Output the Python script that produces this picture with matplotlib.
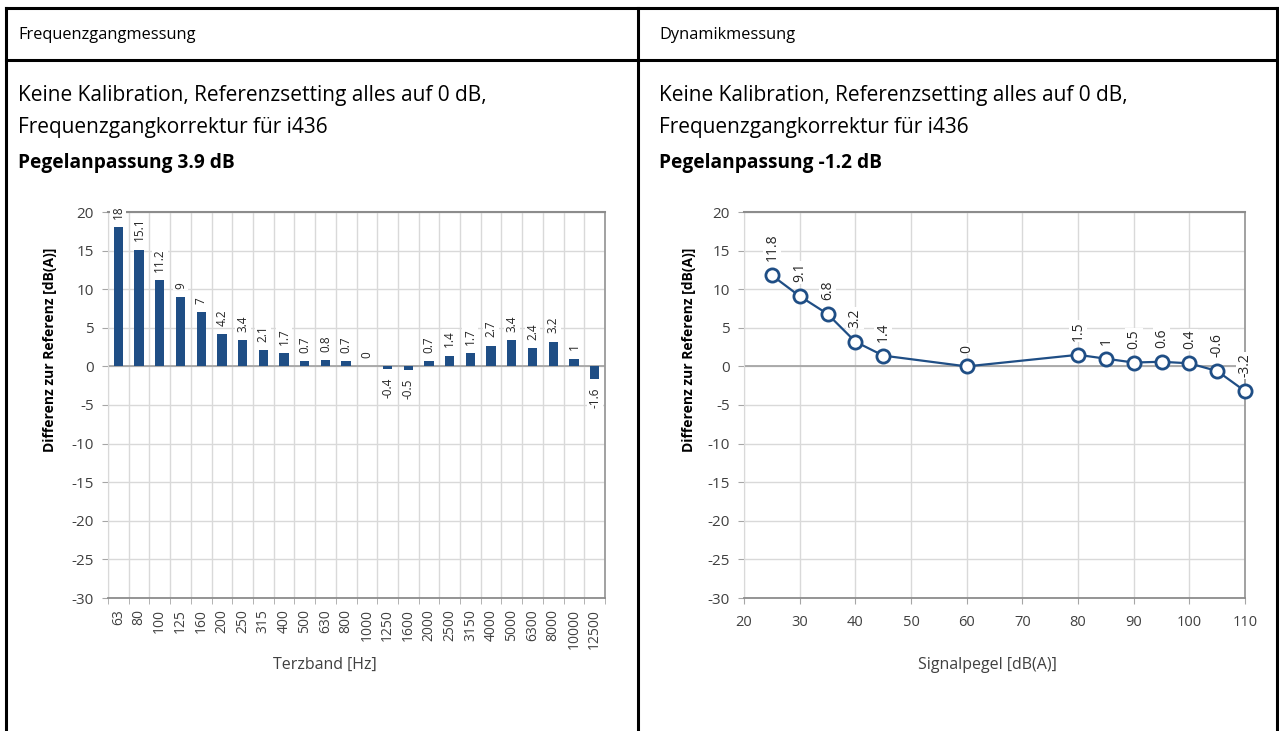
import matplotlib
matplotlib.use("Agg")
import matplotlib.pyplot as plt
from matplotlib.lines import Line2D

plt.rcParams['font.family'] = ['Open Sans', 'DejaVu Sans']
plt.rcParams['axes.unicode_minus'] = False

# Frequency response: third-octave bands and deviation from reference
bands = ["63", "80", "100", "125", "160", "200", "250", "315", "400", "500",
         "630", "800", "1000", "1250", "1600", "2000", "2500", "3150", "4000",
         "5000", "6300", "8000", "10000", "12500"]
band_diff = [18, 15.1, 11.2, 9, 7, 4.2, 3.4, 2.1, 1.7, 0.7, 0.8, 0.7, 0,
             -0.4, -0.5, 0.7, 1.4, 1.7, 2.7, 3.4, 2.4, 3.2, 1, -1.6]

# Dynamic range: signal level and deviation from reference
levels = [25, 30, 35, 40, 45, 60, 80, 85, 90, 95, 100, 105, 110]
level_diff = [11.8, 9.1, 6.8, 3.2, 1.4, 0, 1.5, 1, 0.5, 0.6, 0.4, -0.6, -3.2]

y_ticks = [20, 15, 10, 5, 0, -5, -10, -15, -20, -25, -30]
x_level_ticks = [20, 30, 40, 50, 60, 70, 80, 90, 100, 110]

left_header = "Frequenzgangmessung"
right_header = "Dynamikmessung"
desc_line1 = "Keine Kalibration, Referenzsetting alles auf 0 dB,"
desc_line2 = "Frequenzgangkorrektur für i436"
left_adjust = "Pegelanpassung 3.9 dB"
right_adjust = "Pegelanpassung -1.2 dB"
ylabel = "Differenz zur Referenz [dB(A)]"
left_xlabel = "Terzband [Hz]"
right_xlabel = "Signalpegel [dB(A)]"

W, H = 1279, 731
fig = plt.figure(figsize=(W / 100, H / 100), dpi=100)


def px_rect(l, t, r, b):
    return [l / W, 1 - b / H, (r - l) / W, (b - t) / H]


def fx(x):
    return x / W


def fy(y):
    return 1 - y / H


# Table frame
border = dict(color='black', lw=2.2, transform=fig.transFigure)
fig.add_artist(Line2D([fx(6), fx(1277)], [fy(8), fy(8)], **border))
fig.add_artist(Line2D([fx(6), fx(1277)], [fy(60), fy(60)], **border))
fig.add_artist(Line2D([fx(6), fx(6)], [fy(8), fy(731)], **border))
fig.add_artist(Line2D([fx(638), fx(638)], [fy(8), fy(731)], **border))
fig.add_artist(Line2D([fx(1277), fx(1277)], [fy(8), fy(731)], **border))

# Header and description texts
for x0, head, adj in [(18, left_header, left_adjust), (659, right_header, right_adjust)]:
    fig.text(fx(x0), fy(35), head, fontsize=11.8, va='center', ha='left', color='black')
    fig.text(fx(x0), fy(95), desc_line1, fontsize=15, va='center', ha='left', color='black')
    fig.text(fx(x0), fy(127), desc_line2, fontsize=15, va='center', ha='left', color='black')
    fig.text(fx(x0), fy(163), adj, fontsize=13.8, va='center', ha='left',
             fontweight='bold', color='black')

GRID = '#d9d9d9'
TICK_COLOR = '#404040'
BLUE = '#1f4e85'
LABEL_BOX = dict(facecolor='white', edgecolor='none', pad=1.0)


def style_axes(ax, label_x):
    ax.set_ylim(-30, 20)
    ax.set_yticks(y_ticks)
    ax.tick_params(axis='y', direction='out', length=4, width=0.8, color='#a6a6a6',
                   labelsize=11, labelcolor=TICK_COLOR, pad=6)
    ax.tick_params(axis='x', direction='out', length=4, width=0.8, color='#a6a6a6',
                   labelcolor=TICK_COLOR)
    ax.grid(axis='y', color=GRID, lw=1)
    ax.spines['top'].set_color('#8c8c8c')
    ax.spines['top'].set_linewidth(1.5)
    ax.spines['right'].set_color('#9a9a9a')
    ax.spines['right'].set_linewidth(1.3)
    ax.spines['left'].set_color(GRID)
    ax.spines['bottom'].set_color('#8c8c8c')
    ax.spines['bottom'].set_linewidth(1.3)
    ax.axhline(0, color='#a6a6a6', lw=1.3, zorder=1)
    ax.set_axisbelow(True)
    ax.set_ylabel(ylabel, fontsize=10, fontweight='bold', color='black')
    ax.yaxis.set_label_coords(label_x, 0.642)


# Left chart: frequency response bars
ax1 = fig.add_axes(px_rect(108, 212, 605, 598))
style_axes(ax1, -0.102)
xpos = list(range(len(bands)))
ax1.bar(xpos, band_diff, width=0.45, color=BLUE, zorder=2)
ax1.set_xlim(-0.5, len(bands) - 0.5)
ax1.set_xticks(xpos)
ax1.set_xticklabels(bands, rotation=90, fontsize=10)
ax1.tick_params(axis='x', length=0, pad=8)
ax1.set_xticks([i - 0.5 for i in range(len(bands) + 1)], minor=True)
ax1.tick_params(axis='x', which='minor', length=4, color='#a6a6a6')
ax1.grid(axis='x', which='minor', color=GRID, lw=1)
for x, v in zip(xpos, band_diff):
    ax1.annotate(f"{v:g}", (x, v), xytext=(0, 6 if v >= 0 else -6),
                 textcoords='offset points', rotation=90, ha='center',
                 va='bottom' if v >= 0 else 'top', fontsize=8.5, color='#262626',
                 bbox=LABEL_BOX, zorder=5, annotation_clip=False)
fig.text(fx(325), fy(665), left_xlabel, fontsize=11.5, ha='center', va='center',
         color=TICK_COLOR)

# Right chart: dynamic range line
ax2 = fig.add_axes(px_rect(744, 212, 1245, 598))
style_axes(ax2, -0.096)
ax2.set_xlim(20, 110)
ax2.set_xticks(x_level_ticks)
ax2.tick_params(axis='x', labelsize=10.5, pad=8)
ax2.grid(axis='x', color=GRID, lw=1)
ax2.plot(levels, level_diff, color=BLUE, lw=1.6, marker='o', markersize=9.5,
         markerfacecolor='white', markeredgecolor=BLUE, markeredgewidth=2,
         zorder=4, clip_on=False)
for x, v in zip(levels, level_diff):
    ax2.annotate(f"{v:g}", (x, v), xytext=(0, 10), textcoords='offset points',
                 rotation=90, ha='center', va='bottom', fontsize=10,
                 color='#262626', bbox=LABEL_BOX, zorder=5, annotation_clip=False)
fig.text(fx(987), fy(665), right_xlabel, fontsize=11.5, ha='center', va='center',
         color=TICK_COLOR)

fig.savefig("out.png", dpi=100)
